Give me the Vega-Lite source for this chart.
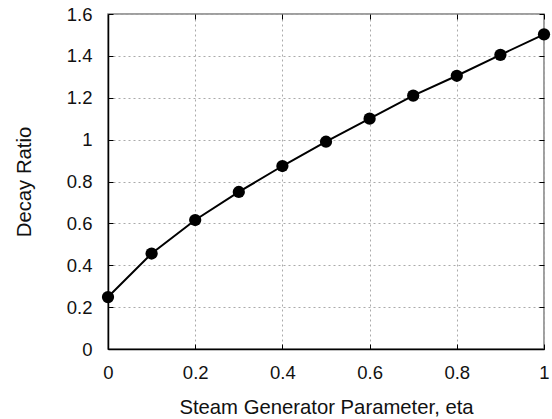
{
  "$schema": "https://vega.github.io/schema/vega-lite/v6.json",
  "width": 436,
  "height": 335,
  "autosize": {"type": "none"},
  "padding": {"left": 108, "top": 14, "right": 8, "bottom": 70},
  "background": "white",
  "config": {
    "view": {"stroke": "#808080", "strokeWidth": 1.5},
    "font": "Liberation Sans",
    "axis": {
      "labelFont": "Liberation Sans",
      "titleFont": "Liberation Sans",
      "labelFontSize": 18.5,
      "titleFontSize": 20.3,
      "titleFontWeight": "normal",
      "labelColor": "#111",
      "titleColor": "#111",
      "domainColor": "#000",
      "domainWidth": 1.5,
      "gridColor": "#aaaaaa",
      "gridDash": [2, 3],
      "gridWidth": 1,
      "gridOpacity": 1,
      "ticks": true,
      "tickSize": -5,
      "tickColor": "#000",
      "tickWidth": 1
    }
  },
  "data": {
    "values": [
      {"eta": 0.0, "dr": 0.248},
      {"eta": 0.1, "dr": 0.456},
      {"eta": 0.2, "dr": 0.616},
      {"eta": 0.3, "dr": 0.75},
      {"eta": 0.4, "dr": 0.874},
      {"eta": 0.5, "dr": 0.99},
      {"eta": 0.6, "dr": 1.1},
      {"eta": 0.7, "dr": 1.21},
      {"eta": 0.8, "dr": 1.305},
      {"eta": 0.9, "dr": 1.405},
      {"eta": 1.0, "dr": 1.503}
    ]
  },
  "resolve": {"axis": {"x": "independent", "y": "independent"}},
  "layer": [
    {
      "mark": {"type": "line", "color": "#000", "strokeWidth": 2},
      "encoding": {
        "x": {
          "field": "eta", "type": "quantitative",
          "scale": {"domain": [0, 1], "nice": false, "zero": false},
          "axis": {"values": [0, 0.2, 0.4, 0.6, 0.8, 1], "format": "~g", "title": "Steam Generator Parameter, eta", "labelPadding": 19, "titlePadding": 16, "labelFlush": false}
        },
        "y": {
          "field": "dr", "type": "quantitative",
          "scale": {"domain": [0, 1.6], "nice": false},
          "axis": {"values": [0, 0.2, 0.4, 0.6, 0.8, 1, 1.2, 1.4, 1.6], "format": "~g", "title": "Decay Ratio", "labelPadding": 21, "titlePadding": 32, "labelFlush": false}
        }
      }
    },
    {
      "mark": {"type": "point", "filled": true, "color": "#000", "opacity": 1, "size": 150, "shape": "circle"},
      "encoding": {
        "x": {
          "field": "eta", "type": "quantitative",
          "scale": {"domain": [0, 1], "nice": false, "zero": false},
          "axis": {"orient": "top", "values": [0, 0.2, 0.4, 0.6, 0.8, 1], "labels": false, "title": null, "grid": false, "domain": false}
        },
        "y": {
          "field": "dr", "type": "quantitative",
          "scale": {"domain": [0, 1.6], "nice": false},
          "axis": {"orient": "right", "values": [0, 0.2, 0.4, 0.6, 0.8, 1, 1.2, 1.4, 1.6], "labels": false, "title": null, "grid": false, "domain": false}
        }
      }
    }
  ]
}
